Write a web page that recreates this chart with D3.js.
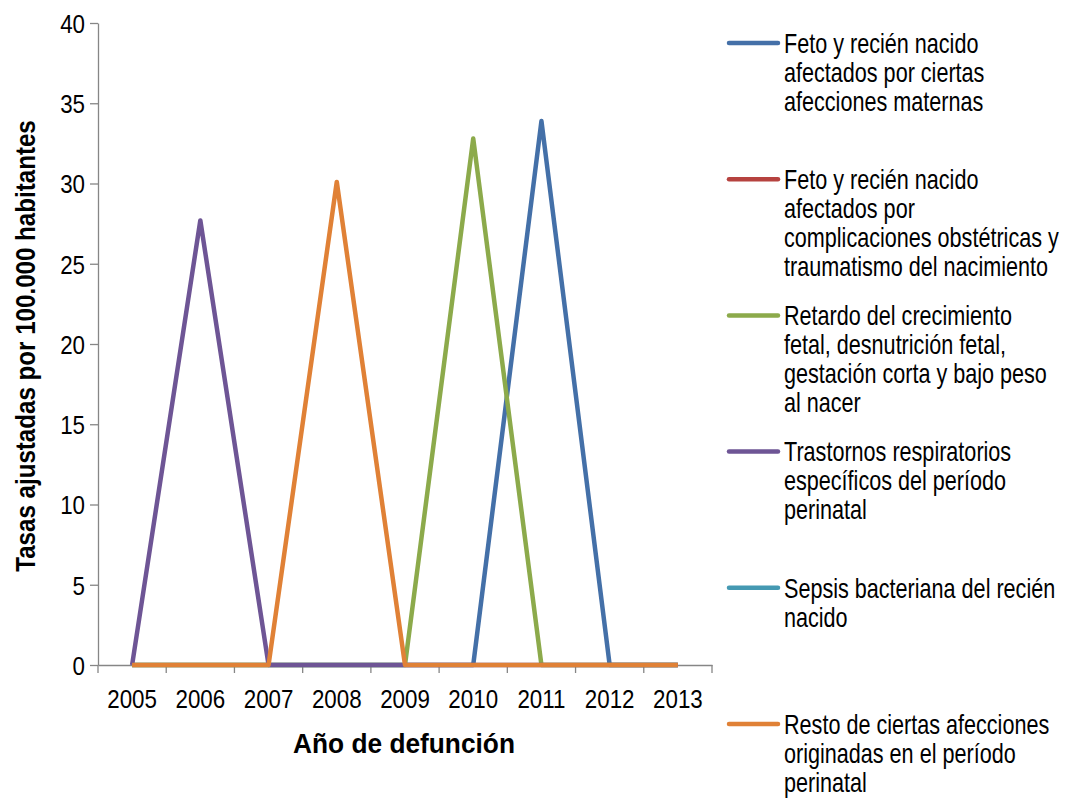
<!DOCTYPE html>
<html>
<head>
<meta charset="utf-8">
<script src="https://cdn.jsdelivr.net/npm/d3@7"></script>
<style>
  html, body { margin: 0; padding: 0; background: #fff; }
  svg { display: block; }
  text { font-family: 'Liberation Sans', Arial, sans-serif; fill: #000; }
</style>
</head>
<body>
<svg id="chart" width="1066" height="799"></svg>
<script>
const years = ["2005","2006","2007","2008","2009","2010","2011","2012","2013"];
const yTicks = [0, 5, 10, 15, 20, 25, 30, 35, 40];

const seriesNames = [
  ["Feto y recién nacido", "afectados por ciertas", "afecciones maternas"],
  ["Feto y recién nacido", "afectados por", "complicaciones obstétricas y", "traumatismo del nacimiento"],
  ["Retardo del crecimiento", "fetal, desnutrición fetal,", "gestación corta y bajo peso", "al nacer"],
  ["Trastornos respiratorios", "específicos del período", "perinatal"],
  ["Sepsis bacteriana del recién", "nacido"],
  ["Resto de ciertas afecciones", "originadas en el período", "perinatal"]
];
const seriesColors = ["#4470A8", "#B6423F", "#8CAA4B", "#6E5595", "#4599B2", "#E08136"];

const afeccionesMaternas    = [0, 0, 0, 0, 0, 0, 33.9, 0, 0];
const complicacionesObst    = [null, null, null, null, null, null, null, null, null];
const retardoCrecimiento    = [0, 0, 0, 0, 0, 32.8, 0, 0, 0];
const trastornosRespir      = [0, 27.7, 0, 0, 0, 0, 0, 0, 0];
const sepsisBacteriana      = [null, null, null, null, null, null, null, null, null];
const restoAfecciones       = [0, 0, 0, 30.1, 0, 0, 0, 0, 0];

const seriesValues = [afeccionesMaternas, complicacionesObst, retardoCrecimiento,
                      trastornosRespir, sepsisBacteriana, restoAfecciones];

const svg = d3.select("#chart");
const plot = { left: 98, right: 712, top: 23, bottom: 665 };
const axisColor = "#868686";
const tickFs = 26, tickSx = 0.86;
const legFs = 27, legSx = 0.80;
const titleFs = 28;

const x = d3.scaleBand().domain(years).range([plot.left, plot.right]).paddingInner(0).paddingOuter(0);
const y = d3.scaleLinear().domain([0, 40]).range([plot.bottom, plot.top]);

// Y axis
const yAxis = svg.append("g").attr("transform", `translate(${plot.left},0)`)
  .call(d3.axisLeft(y).tickValues(yTicks).tickSize(8).tickSizeOuter(0));
yAxis.select(".domain").attr("stroke", axisColor).attr("stroke-width", 1.3);
yAxis.selectAll(".tick line").attr("stroke", axisColor).attr("stroke-width", 1.3);
yAxis.selectAll(".tick text")
  .attr("font-size", tickFs).attr("font-family", null).attr("fill", "#000")
  .attr("x", 0).attr("dy", "0.36em")
  .attr("transform", `translate(-13,0) scale(${tickSx},1)`);

// X axis
const xAxis = svg.append("g").attr("transform", `translate(0,${plot.bottom})`)
  .call(d3.axisBottom(x).tickSize(0).tickPadding(0));
xAxis.select(".domain").attr("stroke", axisColor).attr("stroke-width", 1.3);
xAxis.selectAll(".tick text")
  .attr("font-size", tickFs).attr("font-family", null).attr("fill", "#000")
  .attr("y", 0).attr("dy", null)
  .attr("transform", `translate(0,43) scale(${tickSx},1)`);
const bounds = years.map(d => x(d)).concat([x(years[years.length - 1]) + x.bandwidth()]);
xAxis.selectAll(".bound").data(bounds).enter().append("line")
  .attr("x1", d => d).attr("x2", d => d).attr("y1", 0).attr("y2", 8)
  .attr("stroke", axisColor).attr("stroke-width", 1.3);

// Lines
const line = d3.line()
  .defined(d => d != null)
  .x((d, i) => x(years[i]) + x.bandwidth() / 2)
  .y(d => y(d));

seriesValues.forEach((vals, k) => {
  svg.append("path")
    .datum(vals)
    .attr("fill", "none")
    .attr("stroke", seriesColors[k])
    .attr("stroke-width", 4.5)
    .attr("stroke-linejoin", "round")
    .attr("d", line);
});

// Axis titles, condensed to the reference's widths
function fitTitle(t, targetW, extra) {
  const w = t.node().getComputedTextLength();
  t.attr("transform", extra + ` scale(${targetW / w},1)`);
}
const yTitle = svg.append("text")
  .attr("text-anchor", "middle")
  .attr("font-size", titleFs).attr("font-weight", "bold")
  .text("Tasas ajustadas por 100.000 habitantes");
fitTitle(yTitle, 452, `translate(35,346) rotate(-90)`);

const xTitle = svg.append("text")
  .attr("text-anchor", "middle")
  .attr("font-size", titleFs).attr("font-weight", "bold")
  .text("Año de defunción");
fitTitle(xTitle, 222, `translate(404,753)`);

// Legend
const legendTop = 43, legendStep = 136.2, lineH = 29;
seriesNames.forEach((lines, k) => {
  const cy = legendTop + k * legendStep;
  const g = svg.append("g");
  g.append("line")
    .attr("x1", 729).attr("x2", 778).attr("y1", cy).attr("y2", cy)
    .attr("stroke", seriesColors[k]).attr("stroke-width", 4.5).attr("stroke-linecap", "round");
  const t = g.append("text")
    .attr("transform", `translate(784,${cy}) scale(${legSx},1)`)
    .attr("font-size", legFs);
  lines.forEach((s, i) => {
    t.append("tspan").attr("x", 0).attr("y", i * lineH).attr("dy", "0.36em").text(s);
  });
});
</script>
</body>
</html>
